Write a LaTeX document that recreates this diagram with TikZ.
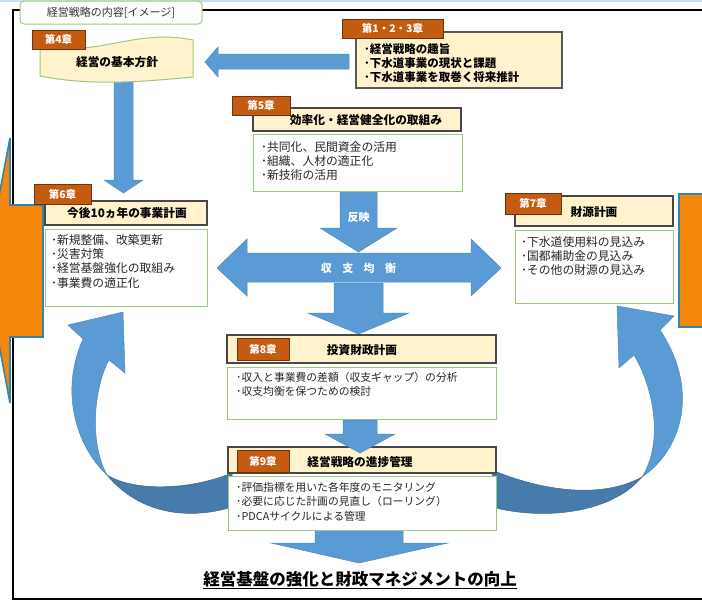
\documentclass[tikz,border=0pt]{standalone}
\usepackage{fontspec}
\setmainfont{Noto Sans CJK JP}
\definecolor{arrowblue}{HTML}{5B9BD5}
\definecolor{arrowedge}{HTML}{4F88C0}
\definecolor{darkblue}{HTML}{477BAC}
\definecolor{cream}{HTML}{FFF2CC}
\definecolor{rust}{HTML}{C55A11}
\definecolor{rustedge}{HTML}{6E340C}
\definecolor{greenedge}{HTML}{9BCB78}
\definecolor{orangefill}{HTML}{F5880A}
\definecolor{tealedge}{HTML}{2F86B0}
\definecolor{topline}{HTML}{C5E0EC}
\definecolor{txtgray}{HTML}{262626}
\tikzset{
  chapter/.style={draw=rustedge, line width=1pt, fill=rust, text=white, inner sep=0pt,
    font=\bfseries\fontsize{10.5}{12}\selectfont},
  header/.style={draw=black!72, line width=1.1pt, fill=cream, inner sep=0pt},
  content/.style={draw=greenedge, line width=1pt, fill=white, inner sep=0pt},
  bluearrow/.style={fill=arrowblue, draw=arrowedge, line width=0.5pt},
  darkarrow/.style={fill=darkblue, draw=darkblue!85!black, line width=0.5pt},
  lines/.style={inner sep=0pt, anchor=north west, align=left, text=txtgray,
    font=\fontsize{11.8}{14.3}\selectfont},
  boldlines/.style={inner sep=0pt, anchor=north west, align=left, text=black,
    font=\bfseries\fontsize{11.5}{14}\selectfont},
  title/.style={inner sep=0pt, text=black, font=\bfseries\fontsize{11.7}{13}\selectfont},
  arrowtext/.style={inner sep=0pt, text=white, font=\bfseries\fontsize{11}{13}\selectfont}
}
\begin{document}
\begin{tikzpicture}[x=1pt,y=-1pt]
\path[use as bounding box, fill=white] (0,0) rectangle (702,606);
\draw[topline, line width=1.5pt] (0,0.75) -- (702,0.75);
% outer frame
\draw[black, line width=1.2pt] (712,10) -- (13,10) -- (13,599) -- (712,599);
% orange shapes at the edges
\draw[fill=orangefill, draw=tealedge, line width=1.6pt]
  (43,205) -- (10,205) -- (10,138) -- (-15,270) -- (10,403) -- (10,337) -- (43,337) -- cycle;
\draw[fill=orangefill, draw=tealedge, line width=1.8pt] (679,194) rectangle (714,327);
% title tab
\node[draw=greenedge, line width=1pt, rounded corners=4pt, fill=white,
  minimum width=182pt, minimum height=23pt, inner sep=0pt, text=black!80,
  font=\fontsize{11}{12}\selectfont] (tab) at (111,12.5) {経営戦略の内容[イメージ]};

% curved arrows (left and right)
\draw[bluearrow] (107,475) .. controls (75,445) and (60,390) .. (83,339)
  -- (68,325) -- (123,312) -- (125,373) -- (109,360)
  .. controls (95,385) and (88,440) .. (107,475) -- cycle;
\draw[darkarrow] (107,475) .. controls (135,492) and (190,490) .. (232,473)
  -- (232,507) .. controls (190,520) and (140,515) .. (107,475) -- cycle;
\draw[bluearrow] (642,477) .. controls (682,450) and (700,390) .. (660,330)
  -- (674,316) -- (617,306) -- (619,368) -- (634,355)
  .. controls (652,385) and (665,440) .. (642,477) -- cycle;
\draw[darkarrow] (492,470) .. controls (540,490) and (600,500) .. (642,477)
  .. controls (610,515) and (540,520) .. (492,507) -- cycle;

% straight block arrows
\draw[bluearrow] (349,54) -- (218,54) -- (218,47) -- (205,62) -- (218,77) -- (218,69) -- (349,69) -- cycle;
\draw[bluearrow] (114,81) -- (133,81) -- (133,180) -- (143,180) -- (123.5,193) -- (104,180) -- (114,180) -- cycle;
\draw[bluearrow] (217,268) -- (247,239) -- (247,253) -- (471,253) -- (471,239) -- (501,268)
  -- (471,296) -- (471,282) -- (247,282) -- (247,296) -- cycle;
\draw[bluearrow] (340,191) -- (377,191) -- (377,228) -- (397,228) -- (358.5,252) -- (320,228) -- (340,228) -- cycle;
\draw[bluearrow] (334,283) -- (383,283) -- (383,313) -- (409,313) -- (358.5,334) -- (308,313) -- (334,313) -- cycle;
\draw[bluearrow] (315,530) -- (403,530) -- (403,543) -- (448,543) -- (359,563) -- (271,543) -- (315,543) -- cycle;
\node[arrowtext] (hanei) at (358.5,217) {反映};
\node[arrowtext] (kinko) at (358.5,268) {収\hspace{0.95em}支\hspace{0.95em}均\hspace{0.95em}衡};

% chapter 4 banner
\draw[fill=cream, draw=greenedge, line width=1pt]
  (40,46) .. controls (95,58) and (135,28) .. (193,40) -- (193,77)
  .. controls (140,82) and (90,86) .. (40,76) -- cycle;
\node[title] (c4t) at (117,62) {経営の基本方針};
\node[chapter, minimum width=53pt, minimum height=19pt] (c4) at (58.5,39.5) {第4章};

% chapters 1-3
\node[draw=black!65, line width=1.1pt, fill=cream, inner sep=0pt,
  minimum width=206pt, minimum height=56pt] (c123b) at (459,60) {};
\node[boldlines] (c123t) at (364,43) {･経営戦略の趣旨\\･下水道事業の現状と課題\\･下水道事業を取巻く将来推計};
\node[chapter, minimum width=101pt, minimum height=19pt] (c123) at (392.5,28.5) {第1・2・3章};

% chapter 5
\node[header, minimum width=208pt, minimum height=23pt] (c5h) at (357,119.5) {};
\node[title] (c5t) at (366,120) {効率化・経営健全化の取組み};
\node[chapter, minimum width=58pt, minimum height=19pt] (c5) at (261,105.5) {第5章};
\node[content, minimum width=209pt, minimum height=57pt] (c5b) at (357.5,162.5) {};
\node[lines] (c5l) at (261,141) {･共同化、民間資金の活用\\･組織、人材の適正化\\･新技術の活用};

% chapter 6
\node[header, minimum width=162pt, minimum height=24pt] (c6h) at (126,213) {};
\node[title] (c6t) at (127,213) {今後10ヵ年の事業計画};
\node[chapter, minimum width=57pt, minimum height=20pt] (c6) at (62.5,194) {第6章};
\node[content, minimum width=162pt, minimum height=77pt] (c6b) at (126,267.5) {};
\node[lines] (c6l) at (51,234) {･新規整備、改築更新\\･災害対策\\･経営基盤強化の取組み\\･事業費の適正化};

% chapter 7
\node[header, minimum width=158pt, minimum height=30pt] (c7h) at (594,211) {};
\node[title] (c7t) at (594,212) {財源計画};
\node[chapter, minimum width=56pt, minimum height=21pt] (c7) at (533,203.5) {第7章};
\node[content, minimum width=158pt, minimum height=73pt] (c7b) at (594,266.5) {};
\node[lines] (c7l) at (521,236) {･下水道使用料の見込み\\･国都補助金の見込み\\･その他の財源の見込み};

% chapter 8
\node[header, minimum width=269pt, minimum height=28pt] (c8h) at (361.5,349) {};
\node[chapter, minimum width=52pt, minimum height=22pt] (c8) at (263,349) {第8章};
\node[title] (c8t) at (362,350) {投資財政計画};
\node[content, minimum width=269pt, minimum height=52pt] (c8b) at (361.5,393) {};
\node[lines, font=\fontsize{10.8}{14.5}\selectfont] (c8l) at (236,372) {･収入と事業費の差額（収支ギャップ）の分析\\･収支均衡を保つための検討};

% chapter 9
\node[header, minimum width=268pt, minimum height=26pt] (c9h) at (362,460) {};
\node[chapter, minimum width=52pt, minimum height=22pt] (c9) at (263,461) {第9章};
\node[title] (c9t) at (360,462) {経営戦略の進捗管理};
\node[content, minimum width=268pt, minimum height=54pt] (c9b) at (362,503) {};
\node[lines, font=\fontsize{10.8}{14.5}\selectfont] (c9l) at (236,482) {･評価指標を用いた各年度のモニタリング\\･必要に応じた計画の見直し（ローリング）\\･PDCAサイクルによる管理};

% arrow from chapter 8 to chapter 9
\draw[bluearrow] (343,420) -- (377,420) -- (377,434) -- (395,434) -- (360,453) -- (325,434) -- (343,434) -- cycle;

% bottom statement
\node[inner sep=0pt, font=\bfseries\fontsize{16.5}{18}\selectfont] (goal) at (360,580) {\underline{経営基盤の強化と財政マネジメントの向上}};
\end{tikzpicture}
\end{document}
